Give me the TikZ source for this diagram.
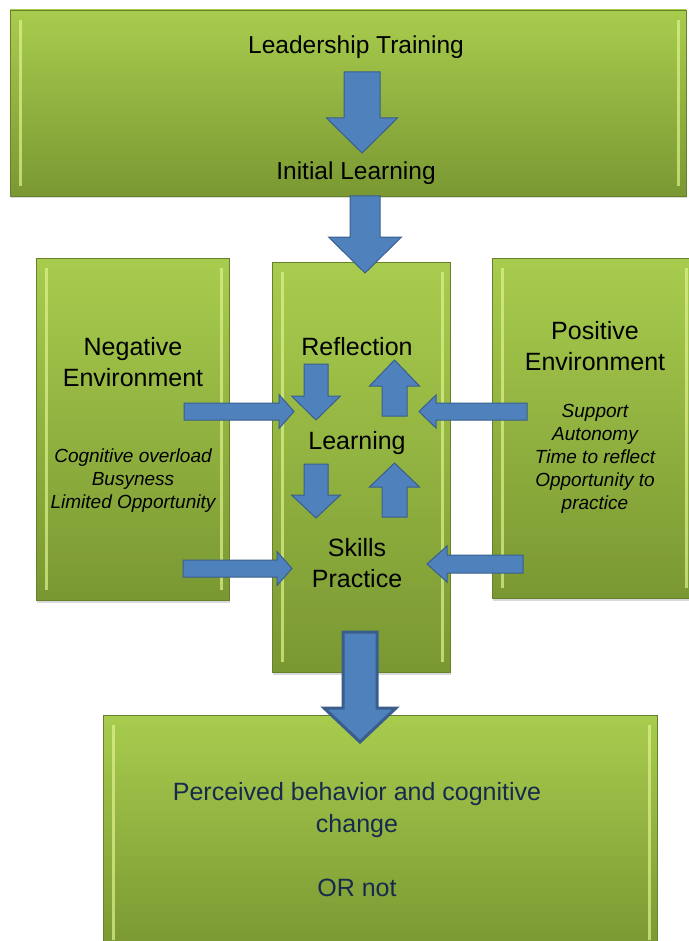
\documentclass[tikz,border=0pt]{standalone}
\usepackage{fontspec}
\setmainfont{Liberation Sans}
\usetikzlibrary{positioning, calc, fit, shadows}

\definecolor{boxtop}{RGB}{168,204,78}
\definecolor{boxbot}{RGB}{122,152,50}
\definecolor{boxline}{RGB}{104,128,44}
\definecolor{boxglow}{RGB}{222,242,140}
\definecolor{arrowfill}{RGB}{79,129,189}
\definecolor{arrowline}{RGB}{58,94,140}
\definecolor{navytext}{RGB}{22,42,78}

\tikzset{
  greenbox/.style={draw=boxline, line width=0.8pt, top color=boxtop, bottom color=boxbot, inner sep=0pt,
    drop shadow={opacity=0.3, shadow xshift=1pt, shadow yshift=-2.5pt},
    path picture={
      \draw[boxglow, line width=3pt, opacity=0.7]
        ([shift={(10pt,10pt)}]path picture bounding box.south west) -- ([shift={(10pt,-10pt)}]path picture bounding box.north west);
      \draw[boxglow, line width=3pt, opacity=0.7]
        ([shift={(-8pt,10pt)}]path picture bounding box.south east) -- ([shift={(-8pt,-10pt)}]path picture bounding box.north east);
    }},
  blockarr/.style={fill=arrowfill, draw=arrowline, line width=1pt, line join=miter},
  headtext/.style={font=\fontsize{24.5}{30}\selectfont, align=center, inner sep=0pt},
  maintext/.style={font=\fontsize{25}{31}\selectfont, align=center, inner sep=0pt},
  listtext/.style={font=\fontsize{19}{23}\selectfont\itshape, align=center, inner sep=0pt}
}

% tail, tip, half shaft, half head, head length
\newcommand{\blockarrow}[6][]{%
  \coordinate (hb) at ($(#3)!#6!(#2)$);
  \draw[blockarr,#1] ($(#2)!#4!90:(#3)$) -- ($(hb)!#4!90:(#3)$) -- ($(hb)!#5!90:(#3)$) -- (#3)
    -- ($(hb)!#5!-90:(#3)$) -- ($(hb)!#4!-90:(#3)$) -- ($(#2)!#4!-90:(#3)$) -- cycle;
}

\begin{document}
\begin{tikzpicture}[x=1pt, y=-1pt]
  \useasboundingbox (0,0) rectangle (688,941);

  \node[greenbox, fit={(10,10) (686,196)}] (training) {};
  \node[greenbox, fit={(36,258) (229,600)}] (negbox) {};
  \node[greenbox, fit={(492,258) (694,598)}] (posbox) {};
  \node[greenbox, fit={(272,262) (450,672)}] (loopbox) {};
  \node[greenbox, fit={(103,715) (657,950)}] (outbox) {};

  \node[headtext] (lt) at (356,47) {Leadership Training};
  \node[headtext] (il) at (356,173) {Initial Learning};

  \node[maintext] (neg) at (133,362) {Negative\\Environment};
  \node[listtext] (negl) at (133,481) {Cognitive overload\\Busyness\\Limited Opportunity};

  \node[maintext] (refl) at (357,347) {Reflection};
  \node[maintext] (lrn) at (357,443) {Learning};
  \node[maintext] (skp) at (357,563.5) {Skills\\Practice};

  \node[maintext] (pos) at (595,346) {Positive\\Environment};
  \node[listtext] (posl) at (595,459) {Support\\Autonomy\\Time to reflect\\Opportunity to\\practice};

  \node[maintext, font=\fontsize{25}{32}\selectfont, text=navytext] (change) at (357,840)
    {Perceived behavior and cognitive\\change\\[32pt]OR not};

  % main flow
  \coordinate (a1s) at (362,72);    \coordinate (a1e) at (362,153);
  \coordinate (a2s) at (365,196);   \coordinate (a2e) at (365,273);
  \coordinate (a3s) at (360,632);   \coordinate (a3e) at (360,742);
  \blockarrow{a1s}{a1e}{18pt}{35.5pt}{35pt}
  \blockarrow{a2s}{a2e}{15pt}{36.5pt}{36pt}
  \blockarrow[line width=3pt]{a3s}{a3e}{17pt}{36pt}{34pt}

  % environment pushing in
  \coordinate (n1s) at (184,411.5); \coordinate (n1e) at (294,411.5);
  \coordinate (n2s) at (183,568.5); \coordinate (n2e) at (292,568.5);
  \coordinate (p1s) at (527,411.5); \coordinate (p1e) at (419,411.5);
  \coordinate (p2s) at (523,564);   \coordinate (p2e) at (427,564);
  \blockarrow{n1s}{n1e}{8.5pt}{17pt}{15pt}
  \blockarrow{n2s}{n2e}{8.5pt}{17pt}{15pt}
  \blockarrow{p1s}{p1e}{8.5pt}{16.5pt}{17pt}
  \blockarrow{p2s}{p2e}{9pt}{18pt}{20pt}

  % reflection / learning / practice loop
  \coordinate (d1s) at (316,364);   \coordinate (d1e) at (316,420);
  \coordinate (d2s) at (316,464);   \coordinate (d2e) at (316,518);
  \coordinate (u1s) at (394.5,416); \coordinate (u1e) at (394.5,360);
  \coordinate (u2s) at (394.5,517); \coordinate (u2e) at (394.5,463);
  \blockarrow{d1s}{d1e}{12pt}{24.5pt}{24pt}
  \blockarrow{d2s}{d2e}{12pt}{24.5pt}{23pt}
  \blockarrow{u1s}{u1e}{12.5pt}{25pt}{26pt}
  \blockarrow{u2s}{u2e}{12.5pt}{25pt}{24pt}
\end{tikzpicture}
\end{document}
